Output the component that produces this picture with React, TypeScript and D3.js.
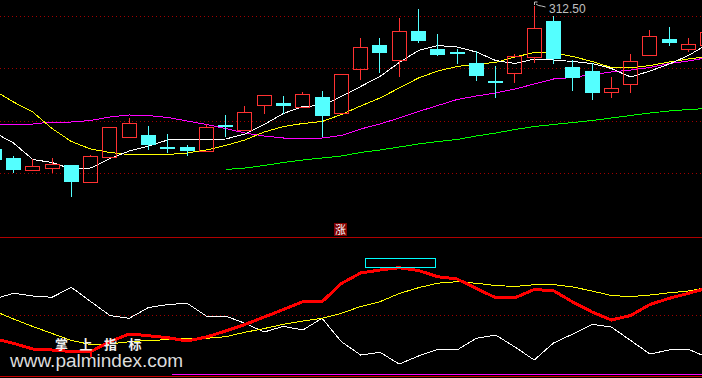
import React from 'react';
import * as d3 from 'd3';

const WIDTH = 702;
const HEIGHT = 378;

// ---- Candles (price units) ----
const opens = [283.9, 282.1, 279.7, 280.2, 280.7, 277.3, 282.3, 286.3, 286.7, 284.3, 284.3, 283.5, 288.7, 287.7, 292.6, 293.1, 292.4, 294.3, 291.2, 300.0, 304.7, 301.6, 307.5, 303.9, 303.3, 301.1, 297.5, 299.2, 302.4, 309.5, 300.3, 299.5, 295.4, 296.8, 302.6, 305.9, 304.0, 304.7];
const closes = [281.7, 279.7, 280.5, 280.9, 277.3, 282.5, 288.3, 289.1, 284.7, 283.9, 283.5, 288.3, 288.6, 291.3, 294.7, 292.5, 294.9, 290.5, 298.9, 304.3, 303.2, 307.5, 305.5, 302.7, 302.9, 298.5, 297.4, 302.5, 308.1, 301.9, 298.1, 295.1, 296.1, 301.5, 306.5, 305.1, 304.9, 307.3];
const highs = [284.3, 282.5, 281.9, 282.1, 280.7, 282.7, 288.3, 290.1, 288.5, 286.9, 284.7, 288.9, 290.7, 292.5, 294.7, 294.5, 295.3, 295.5, 298.9, 306.1, 306.1, 310.1, 311.9, 306.9, 303.9, 303.5, 300.5, 302.9, 312.5, 310.5, 301.7, 301.1, 298.3, 302.9, 307.7, 308.3, 306.1, 307.7];
const lows = [281.3, 279.3, 279.7, 279.3, 274.5, 277.3, 282.3, 286.3, 283.9, 283.3, 282.7, 283.5, 286.5, 287.7, 291.2, 291.1, 292.4, 286.5, 291.2, 297.9, 299.3, 298.5, 305.3, 302.7, 301.2, 297.7, 294.3, 297.4, 301.4, 301.1, 295.7, 293.9, 294.3, 295.3, 302.6, 304.7, 303.5, 304.7];

// ---- Moving averages ----
const ma5 = [287.2, 285.1, 281.8, 281.2, 279.9, 280.1, 282.0, 283.5, 284.5, 285.7, 285.8, 285.8, 285.9, 286.9, 288.8, 291.0, 292.4, 292.6, 294.4, 296.4, 298.4, 301.2, 303.6, 304.6, 304.3, 303.3, 301.6, 301.0, 301.9, 301.7, 301.4, 301.0, 300.0, 298.3, 299.5, 300.9, 302.6, 304.9];
const ma10 = [295.6, 293.3, 291.3, 288.0, 285.4, 283.9, 283.2, 282.8, 282.8, 282.8, 283.1, 283.7, 284.6, 285.7, 287.3, 288.4, 289.0, 289.4, 290.8, 292.5, 294.1, 296.1, 298.1, 299.5, 300.4, 300.9, 301.2, 302.3, 303.2, 303.1, 302.4, 301.4, 300.2, 300.1, 300.6, 301.3, 301.9, 302.4];
const ma20 = [288.9, 288.9, 288.9, 289.3, 289.3, 289.6, 290.3, 290.7, 290.6, 290.2, 289.5, 288.8, 288.0, 287.1, 286.5, 286.1, 286.1, 286.1, 286.6, 287.9, 288.9, 290.1, 291.4, 292.6, 293.8, 294.5, 295.1, 295.9, 296.9, 297.9, 298.2, 298.8, 299.3, 299.7, 300.2, 301.0, 301.5, 302.2];
const ma60: (number | null)[] = [null, null, null, null, null, null, null, null, null, null, null, null, 279.8, 280.1, 280.6, 281.2, 281.7, 282.1, 282.5, 283.2, 283.7, 284.3, 284.9, 285.4, 285.8, 286.5, 287.1, 287.8, 288.4, 288.8, 289.2, 289.6, 290.1, 290.6, 291.1, 291.5, 291.8, 292.0];

const gridPrices = [310.5, 300.1, 289.5, 279.1];

// ---- Indicator panel ----
const oscWhite = [76, 81.7, 79, 77.7, 87.7, 73.5, 59.5, 56.7, 67.5, 70.5, 71.7, 59, 59, 51.7, 43, 48.7, 45, 56.7, 33.3, 20, 22.7, 11, 19, 25.7, 25, 36.7, 40, 28, 15, 32, 41, 50.7, 48, 34.5, 21, 25, 25.7, 17.5];
const oscYellow = [64, 56, 48.5, 41.5, 34.5, 30.5, 31, 33.3, 34.5, 35.3, 36.5, 36.7, 38.3, 42.7, 46.5, 50.7, 54, 56.7, 61.7, 68.5, 73.3, 81.5, 87.3, 91.8, 93.3, 91.7, 89.5, 88.5, 90.3, 90.5, 88, 84, 79.5, 78.3, 80, 82.2, 84, 87.5];
const oscRed = [36.5, 31.7, 26, 25, 23.5, 23.3, 33.3, 41, 39.3, 37.3, 34, 38, 44, 50.5, 58, 65.5, 73.3, 73.3, 91.5, 102, 105, 107.3, 104.5, 98.3, 96, 86.5, 77.3, 77.3, 85.5, 84.3, 73, 63, 55, 59.5, 70.5, 76.7, 81.7, 87];
const oscMid = 60;
const boxRange = [19.2, 22.85];
const boxValues = [107.3, 116.7];
const signalIndex = 5;

const riseLabel = '涨';
const riseIndex = 18;
const highIndex = 28;
const highLabel = '312.50';
const watermarkCn = '掌上指标';
const watermarkUrl = 'www.palmindex.com';

const C = {
  bg: '#000000',
  up: '#ff3232',
  down: '#54ffff',
  white: '#ffffff',
  yellow: '#ffff00',
  magenta: '#ff00ff',
  green: '#00ff00',
  grid: '#a00000',
  sep: '#b00000',
  red: '#ff0000',
  label: '#c0c0c0',
};

export default function App() {
  const n = opens.length;
  const x = d3.scaleLinear().domain([0, n - 1]).range([-5.79, 707.8]);
  const yP = d3.scaleLinear().domain([274.5, 312.5]).range([196, 6]);
  const yO = d3.scaleLinear().domain([0, 120]).range([375, 255]);

  const pLine = (arr: (number | null)[]) =>
    d3.line<number | null>()
      .defined((d) => d != null)
      .x((_, i) => x(i))
      .y((d) => yP(d as number))(arr) || '';
  const oLine = (arr: number[]) =>
    d3.line<number>().x((_, i) => x(i)).y((d) => yO(d))(arr) || '';

  const candles = d3.range(n).map((i) => {
    const o = opens[i], c = closes[i], h = highs[i], l = lows[i];
    const up = c >= o;
    const px = Math.floor(x(i));
    const top = Math.round(yP(Math.max(o, c)));
    const bot = Math.round(yP(Math.min(o, c)));
    const hy = Math.round(yP(h));
    const ly = Math.round(yP(l));
    if (up) {
      return (
        <g key={i}>
          {hy < top && <line x1={px + 0.5} x2={px + 0.5} y1={hy} y2={top} stroke={C.up} />}
          {ly > bot && <line x1={px + 0.5} x2={px + 0.5} y1={bot + 1} y2={ly + 1} stroke={C.up} />}
          <rect x={px - 7 + 0.5} y={top + 0.5} width={14} height={Math.max(bot - top, 1)} fill="none" stroke={C.up} />
        </g>
      );
    }
    return (
      <g key={i}>
        <line x1={px + 0.5} x2={px + 0.5} y1={hy} y2={ly + 1} stroke={C.down} />
        <rect x={px - 7} y={top} width={15} height={Math.max(bot - top, 2)} fill={C.down} />
      </g>
    );
  });

  const hx = Math.floor(x(highIndex)) + 0.5;
  const hy = yP(highs[highIndex]);
  const rx = Math.floor(x(riseIndex));
  const sx = Math.floor(x(signalIndex)) + 0.5;
  const sy = yO(oscRed[signalIndex]);

  return (
    <svg
      width={WIDTH}
      height={HEIGHT}
      style={{ position: 'absolute', left: 0, top: 0, display: 'block', background: C.bg }}
      shapeRendering="crispEdges"
    >
      <rect x={0} y={0} width={WIDTH} height={HEIGHT} fill={C.bg} />
      {/* price grid */}
      {gridPrices.map((p, i) => (
        <line key={i} x1={0} x2={WIDTH} y1={Math.round(yP(p)) + 0.5} y2={Math.round(yP(p)) + 0.5}
          stroke={C.grid} strokeDasharray="1 3" />
      ))}
      {/* moving averages */}
      <path d={pLine(ma60)} fill="none" stroke={C.green} strokeWidth={1} />
      <path d={pLine(ma20)} fill="none" stroke={C.magenta} strokeWidth={1} />
      <path d={pLine(ma10)} fill="none" stroke={C.yellow} strokeWidth={1} />
      <path d={pLine(ma5)} fill="none" stroke={C.white} strokeWidth={1} />
      {candles}
      {/* high marker */}
      <path d={`M${hx},${hy - 1} L${hx},${hy - 4} L${hx + 3},${hy - 4} M${hx + 1.5},${hy - 2} L${hx + 4},${hy - 0.5} L${hx + 7},${hy} L${hx + 11},${hy + 1}`}
        fill="none" stroke={C.label} shapeRendering="auto" />
      <text x={hx + 14.5} y={12.5} fill={C.label} fontSize={12}
        fontFamily="'Liberation Sans', Arial, sans-serif">{highLabel}</text>

      {/* rise label + separator */}
      <rect x={rx - 7} y={223} width={13} height={13} fill="#800000" />
      <text x={rx - 0.5} y={234} textAnchor="middle" fill="#ffffff" fontSize={11}
        fontFamily="'Noto Sans CJK SC', sans-serif">{riseLabel}</text>
      <line x1={0} x2={WIDTH} y1={237.5} y2={237.5} stroke={C.sep} />

      {/* indicator panel */}
      <line x1={0} x2={WIDTH} y1={Math.round(yO(oscMid)) + 0.5} y2={Math.round(yO(oscMid)) + 0.5}
        stroke={C.grid} strokeDasharray="1 3" />
      <path d={oLine(oscWhite)} fill="none" stroke={C.white} strokeWidth={1} />
      <path d={oLine(oscYellow)} fill="none" stroke={C.yellow} strokeWidth={1} />
      <path d={oLine(oscRed)} fill="none" stroke={C.red} strokeWidth={3} />
      <path d={`M${sx},${sy} L${sx},${sy + 5}`} stroke={C.red} strokeWidth={2} />
      <rect x={Math.round(x(boxRange[0])) + 0.5} y={Math.round(yO(boxValues[1])) + 0.5}
        width={Math.round(x(boxRange[1]) - x(boxRange[0]))} height={Math.round(yO(boxValues[0]) - yO(boxValues[1]))}
        fill="none" stroke="#00ffff" />

      {/* bottom borders */}
      <line x1={172} x2={WIDTH} y1={374.5} y2={374.5} stroke={C.magenta} />
      <line x1={0} x2={WIDTH} y1={376.5} y2={376.5} stroke="#c80000" />

      {/* watermark */}
      <text x={55} y={348.5} fill="#f0f0f0" fontSize={13} fontWeight="bold" letterSpacing={11.5}
        fontFamily="'Noto Sans CJK SC', sans-serif" shapeRendering="auto">{watermarkCn}</text>
      <text x={10} y={366.5} fill="#dcdcdc" fontSize={19}
        fontFamily="'Liberation Sans', Arial, sans-serif">{watermarkUrl}</text>
    </svg>
  );
}
